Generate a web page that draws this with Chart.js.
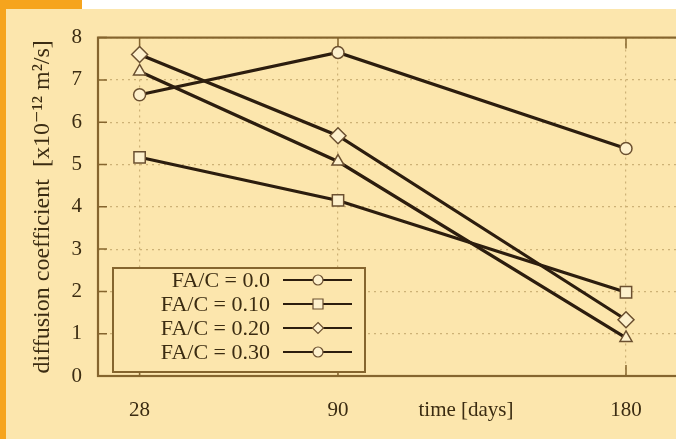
<!DOCTYPE html>
<html>
<head>
<meta charset="utf-8">
<script src="https://cdn.jsdelivr.net/npm/chart.js@4/dist/chart.umd.min.js"></script>
<style>
  html, body { margin: 0; padding: 0; }
  body { width: 676px; height: 439px; overflow: hidden; position: relative; background: #fce6ad; }
  #topbar { position: absolute; left: 0; top: 0; width: 676px; height: 9px; background: #ffffff; }
  #corner { position: absolute; left: 0; top: 0; width: 82px; height: 9px; background: #f6a41d; }
  #strip { position: absolute; left: 0; top: 0; width: 6px; height: 439px; background: #f6a41d; }
  #wrap { position: absolute; left: 6px; top: 9px; width: 700px; height: 430px; }
</style>
</head>
<body>
<div id="topbar"></div>
<div id="corner"></div>
<div id="strip"></div>
<div id="wrap"><canvas id="chart" width="700" height="430"></canvas></div>
<script>
// values
var days = [28, 90, 180];
var yTicks = [0, 1, 2, 3, 4, 5, 6, 7, 8];
var seriesLabels = ['FA/C = 0.0', 'FA/C = 0.10', 'FA/C = 0.20', 'FA/C = 0.30'];
var fac00 = [6.65, 7.65, 5.38];
var fac10 = [5.17, 4.15, 1.98];
var fac20 = [7.6, 5.68, 1.33];
var fac30 = [7.2, 5.07, 0.9];

var lineColor = '#2c1d0e';
var frameColor = '#85652e';
var textColor = '#3b2c12';
var gridColor = 'rgba(190, 160, 100, 0.75)';
var bg = '#fce6ad';
var serif = '"Liberation Serif", "DejaVu Serif", serif';
var markerSize = { circle: 6, rect: 8, rectRot: 8, triangle: 7 };

function series(label, values, style) {
    return {
        label: label,
        data: days.map(function (d, i) { return { x: d, y: values[i] }; }),
        borderColor: lineColor,
        borderWidth: 3.2,
        pointStyle: style,
        pointRadius: markerSize[style],
        pointBackgroundColor: '#fdf0cc',
        pointBorderColor: '#6b5030',
        pointBorderWidth: 1.5,
        tension: 0
    };
}

var frame = {
    id: 'frame',
    beforeDatasetsDraw: function (chart) {
        var ctx = chart.ctx, a = chart.chartArea;
        var xs = chart.scales.x, ys = chart.scales.y;
        ctx.save();
        ctx.strokeStyle = frameColor;
        ctx.lineWidth = 2.2;
        ctx.strokeRect(a.left, a.top, a.right - a.left, a.bottom - a.top);
        ctx.lineWidth = 1.5;
        ctx.beginPath();
        yTicks.forEach(function (v) {
            var y = ys.getPixelForValue(v);
            ctx.moveTo(a.left, y); ctx.lineTo(a.left + 9, y);
            ctx.moveTo(a.right, y); ctx.lineTo(a.right - 9, y);
        });
        days.forEach(function (v) {
            var x = xs.getPixelForValue(v);
            ctx.moveTo(x, a.top); ctx.lineTo(x, a.top + 11);
            ctx.moveTo(x, a.bottom); ctx.lineTo(x, a.bottom - 11);
        });
        ctx.stroke();
        ctx.restore();
    },
    afterDraw: function (chart) {
        var ctx = chart.ctx, xs = chart.scales.x;
        ctx.save();
        ctx.fillStyle = textColor;
        ctx.font = '21px ' + serif;
        ctx.textAlign = 'center';
        ctx.textBaseline = 'middle';
        ctx.fillText('time [days]', xs.getPixelForValue(130), chart.chartArea.bottom + 34);
        ctx.restore();
    }
};

var boxLegend = {
    id: 'boxLegend',
    afterDatasetsDraw: function (chart) {
        var ctx = chart.ctx, a = chart.chartArea;
        var left = a.left + 15, top = a.bottom - 108, w = 252, h = 104;
        ctx.save();
        ctx.fillStyle = bg;
        ctx.fillRect(left, top, w, h);
        ctx.strokeStyle = frameColor;
        ctx.lineWidth = 2;
        ctx.strokeRect(left, top, w, h);
        ctx.font = '22px ' + serif;
        ctx.textAlign = 'right';
        ctx.textBaseline = 'middle';
        chart.data.datasets.forEach(function (ds, i) {
            var y = top + 12 + i * 24;
            ctx.fillStyle = textColor;
            ctx.fillText(ds.label, left + 157, y + 1);
            ctx.strokeStyle = lineColor;
            ctx.lineWidth = 2;
            ctx.beginPath();
            ctx.moveTo(left + 170, y);
            ctx.lineTo(left + 239, y);
            ctx.stroke();
            ctx.fillStyle = '#fdf0cc';
            ctx.strokeStyle = '#6b5030';
            ctx.lineWidth = 1.2;
            ctx.beginPath();
            if (ds.pointStyle === 'rect') {
                ctx.rect(left + 200, y - 5, 10, 10);
            } else if (ds.pointStyle === 'rectRot') {
                ctx.moveTo(left + 205, y - 5.5); ctx.lineTo(left + 210.5, y);
                ctx.lineTo(left + 205, y + 5.5); ctx.lineTo(left + 199.5, y); ctx.closePath();
            } else {
                ctx.arc(left + 205, y, 5, 0, Math.PI * 2);
            }
            ctx.fill();
            ctx.stroke();
        });
        ctx.restore();
    }
};

new Chart(document.getElementById('chart'), {
    type: 'line',
    data: {
        datasets: [
            series(seriesLabels[0], fac00, 'circle'),
            series(seriesLabels[1], fac10, 'rect'),
            series(seriesLabels[2], fac20, 'rectRot'),
            series(seriesLabels[3], fac30, 'triangle')
        ]
    },
    options: {
        responsive: false,
        animation: false,
        devicePixelRatio: 1,
        layout: { padding: { top: 23, right: 16, left: 0, bottom: 0 } },
        plugins: { legend: { display: false }, tooltip: { enabled: false } },
        scales: {
            x: {
                type: 'linear',
                min: 15,
                max: 200,
                afterBuildTicks: function (scale) {
                    scale.ticks = days.map(function (v) { return { value: v }; });
                },
                afterFit: function (scale) { scale.height = 63; },
                grid: { color: gridColor, lineWidth: 1.2, drawTicks: false },
                border: { display: false, dash: [2, 4] },
                ticks: { color: textColor, font: { family: serif, size: 21 }, padding: 22, maxRotation: 0 }
            },
            y: {
                min: 0,
                max: 8,
                afterBuildTicks: function (scale) {
                    scale.ticks = yTicks.map(function (v) { return { value: v }; });
                },
                afterFit: function (scale) { scale.width = 92; },
                grid: { color: gridColor, lineWidth: 1.2, drawTicks: false },
                border: { display: false, dash: [2, 4] },
                ticks: { color: textColor, font: { family: serif, size: 21 }, padding: 16 },
                title: {
                    display: true,
                    text: 'diffusion coefficient  [x10\u207B\u00B9\u00B2 m\u00B2/s]',
                    color: textColor,
                    font: { family: serif, size: 24 },
                    padding: { top: 22, bottom: 0 }
                }
            }
        }
    },
    plugins: [frame, boxLegend]
});
</script>
</body>
</html>
